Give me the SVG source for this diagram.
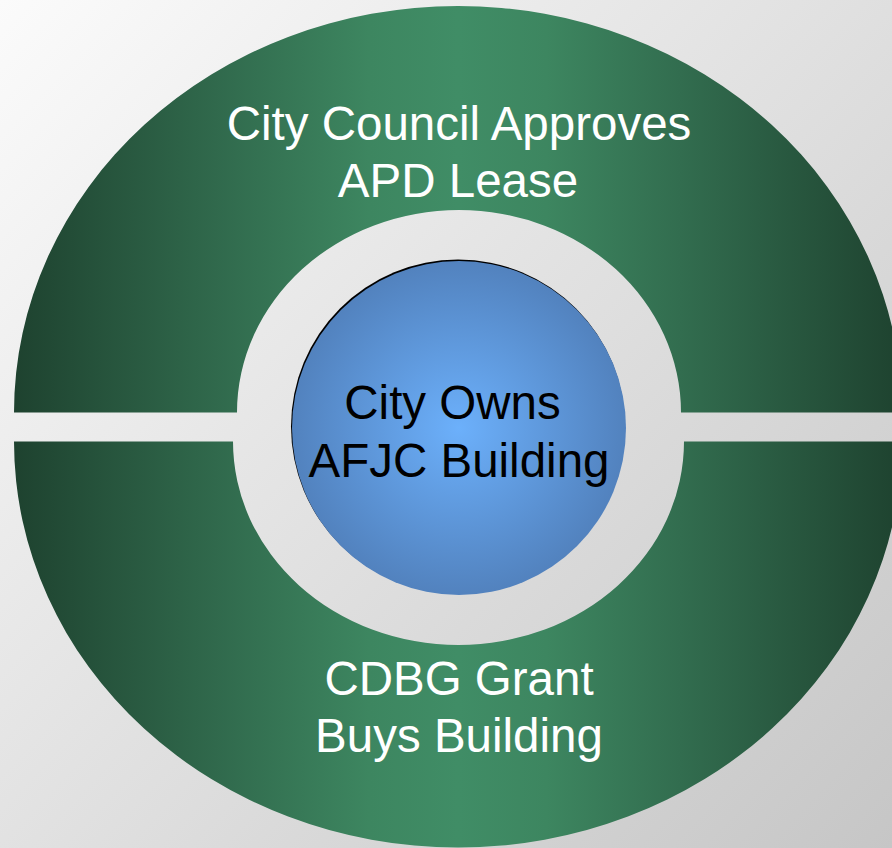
<svg xmlns="http://www.w3.org/2000/svg" width="892" height="848" viewBox="0 0 892 848">
  <defs>
    <linearGradient id="bg" gradientUnits="userSpaceOnUse" x1="0" y1="0" x2="892" y2="848">
      <stop offset="0" stop-color="#fbfbfb"/>
      <stop offset="1" stop-color="#c6c6c6"/>
    </linearGradient>
    <linearGradient id="green" gradientUnits="userSpaceOnUse" x1="14" y1="0" x2="902" y2="0">
      <stop offset="0" stop-color="#1e422f"/>
      <stop offset="0.25" stop-color="#326d4f"/>
      <stop offset="0.4" stop-color="#3d8660"/>
      <stop offset="0.5" stop-color="#408d66"/>
      <stop offset="0.6" stop-color="#3d8660"/>
      <stop offset="0.75" stop-color="#326d4f"/>
      <stop offset="1" stop-color="#1e422f"/>
    </linearGradient>
    <radialGradient id="blue" gradientUnits="userSpaceOnUse" cx="459" cy="428" r="167">
      <stop offset="0" stop-color="#6cb0fb"/>
      <stop offset="1" stop-color="#5282be"/>
    </radialGradient>
    <style>
      .ring { fill: url(#green); }
      .lbl { font-family: "Liberation Sans", Arial, sans-serif; font-size: 47.5px; text-anchor: middle; }
      .w { fill: #ffffff; }
      .k { fill: #000000; }
    </style>
  </defs>

  <rect x="0" y="0" width="892" height="848" fill="url(#bg)"/>

  <g id="top-half">
    <path class="ring" d="M 14 412.5 A 444 406.5 0 0 1 902 412.5 L 681 412.5 A 222 202.5 0 0 0 237 412.5 Z"/>
    <text class="lbl w" x="459" y="140">City Council Approves</text>
    <text class="lbl w" x="458" y="197">APD Lease</text>
  </g>

  <g id="bottom-half">
    <path class="ring" d="M 14 441.5 A 444 406 0 0 0 902 441.5 L 684 441.5 A 225.5 203.5 0 0 1 233 441.5 Z"/>
    <text class="lbl w" x="459" y="695">CDBG Grant</text>
    <text class="lbl w" x="459" y="752">Buys Building</text>
  </g>

  <g id="center">
    <circle cx="458" cy="426.5" r="167" fill="#000000"/>
    <circle cx="459" cy="428" r="167" fill="url(#blue)"/>
    <text class="lbl k" x="452.5" y="419">City Owns</text>
    <text class="lbl k" x="459" y="477">AFJC Building</text>
  </g>
</svg>
